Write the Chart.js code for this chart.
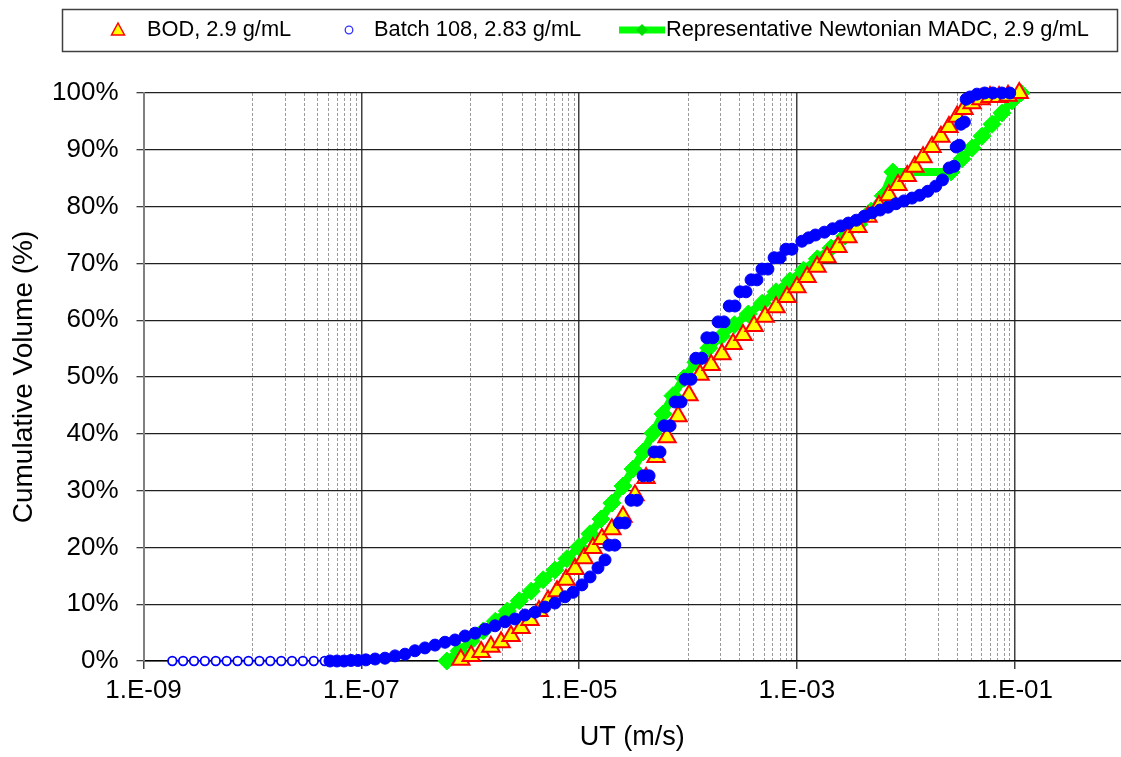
<!DOCTYPE html>
<html>
<head>
<meta charset="utf-8">
<script src="https://cdn.jsdelivr.net/npm/chart.js@4.4.1/dist/chart.umd.min.js"></script>
<style>
  html, body { margin: 0; padding: 0; background: #fff; overflow: hidden; }
</style>
</head>
<body>
<canvas id="myChart" width="1121" height="757"></canvas>
<script>
const ctx = document.getElementById("myChart");

// series names
const names = ['BOD, 2.9 g/mL', 'Batch 108, 2.83 g/mL', 'Representative Newtonian MADC, 2.9 g/mL'];

// BOD (triangles)
const bodX = [8.2e-7, 1.02e-6, 1.26e-6, 1.55e-6, 1.92e-6, 2.37e-6, 2.93e-6, 3.54e-6, 4.28e-6, 5.18e-6,
  6.27e-6, 7.59e-6, 9.18e-6, 1.11e-5, 1.34e-5, 1.62e-5, 2.0e-5, 2.53e-5, 3.26e-5, 4.12e-5,
  5.09e-5, 6.42e-5, 8.1e-5, 1.02e-4, 1.29e-4, 1.63e-4, 2.05e-4, 2.59e-4, 3.2e-4, 4.04e-4,
  5.1e-4, 6.43e-4, 8.1e-4, 1.0e-3, 1.24e-3, 1.53e-3, 1.89e-3, 2.38e-3, 2.94e-3, 3.63e-3,
  4.49e-3, 5.66e-3, 6.99e-3, 8.48e-3, 1.03e-2, 1.21e-2, 1.44e-2, 1.74e-2, 2.1e-2, 2.49e-2,
  2.95e-2, 3.42e-2, 4.06e-2, 4.9e-2, 5.93e-2, 7.18e-2, 8.68e-2, 1.1e-1]
const bodY = [0.2, 0.9, 1.6, 2.5, 3.3, 4.4, 5.8, 7.2, 8.8, 10.6,
  12.3, 14.3, 16.2, 18.1, 19.9, 21.5, 23.2, 25.4, 29.2, 32.2,
  35.9, 39.4, 43.1, 46.8, 50.4, 52.1, 54.0, 55.8, 57.4, 59.0,
  60.6, 62.3, 64.1, 65.8, 67.6, 69.4, 71.1, 72.9, 74.6, 76.4,
  78.2, 80.1, 82.0, 83.8, 85.4, 87.0, 88.7, 90.5, 92.3, 94.0,
  95.8, 97.2, 98.2, 98.9, 99.3, 99.3, 99.5, 100]

// Batch 108 (circles)
const batchX = [1.84e-9, 2.31e-9, 2.91e-9, 3.66e-9, 4.61e-9, 5.8e-9, 7.3e-9, 9.2e-9, 1.16e-8, 1.46e-8,
  1.84e-8, 2.31e-8, 2.91e-8, 3.66e-8, 4.61e-8,
  5.16e-8, 5.98e-8, 6.94e-8, 8.04e-8, 9.3e-8,
  1.1e-7, 1.34e-7, 1.65e-7, 2.04e-7, 2.52e-7, 3.11e-7, 3.84e-7, 4.75e-7, 5.87e-7, 7.25e-7,
  8.96e-7, 1.11e-6, 1.37e-6, 1.69e-6, 2.09e-6, 2.58e-6, 3.18e-6, 3.94e-6, 4.86e-6, 6.0e-6,
  7.42e-6, 8.79e-6, 1.06e-5, 1.26e-5, 1.49e-5, 1.73e-5,
  1.88e-5, 2.13e-5, 2.33e-5, 2.64e-5, 3.0e-5, 3.4e-5, 3.87e-5, 4.39e-5, 4.87e-5, 5.53e-5,
  6.03e-5, 6.84e-5, 7.6e-5, 8.63e-5, 9.4e-5, 1.065e-4, 1.18e-4, 1.34e-4, 1.49e-4, 1.69e-4,
  1.89e-4, 2.14e-4, 2.39e-4, 2.7e-4, 3.0e-4, 3.41e-4, 3.79e-4, 4.3e-4, 4.78e-4, 5.42e-4,
  6.17e-4, 7.0e-4, 7.93e-4, 9.0e-4,
  1.11e-3, 1.28e-3, 1.48e-3, 1.79e-3, 2.13e-3, 2.52e-3, 2.97e-3, 3.51e-3, 4.15e-3, 4.91e-3,
  5.8e-3, 6.86e-3, 8.12e-3, 9.61e-3, 1.14e-2, 1.34e-2, 1.59e-2, 1.88e-2, 2.17e-2, 2.5e-2,
  2.78e-2, 2.9e-2, 3.1e-2, 3.2e-2, 3.45e-2, 3.58e-2, 3.88e-2, 4.5e-2, 5.3e-2, 6.3e-2,
  7.6e-2, 9.0e-2]
const batchY = [0, 0, 0, 0, 0, 0, 0, 0, 0, 0,
  0, 0, 0, 0, 0,
  0, 0, 0, 0.1, 0.1,
  0.2, 0.35, 0.5, 0.9, 1.2, 1.8, 2.3, 2.8, 3.3, 3.7,
  4.4, 4.9, 5.6, 6.2, 6.9, 7.4, 8.1, 8.6, 9.5, 10.2,
  11.3, 12.1, 13.4, 14.8, 16.4, 17.8,
  20.4, 20.4, 24.3, 24.3, 28.3, 28.3, 32.6, 32.6, 36.8, 36.8,
  41.4, 41.4, 45.6, 45.6, 49.6, 49.6, 53.3, 53.3, 56.9, 56.9,
  59.7, 59.7, 62.5, 62.5, 65.0, 65.0, 67.1, 67.1, 69.0, 69.0,
  71.0, 71.0, 72.5, 72.5,
  73.9, 74.5, 75.0, 75.5, 76.1, 76.6, 77.1, 77.6, 78.3, 78.9,
  79.4, 79.9, 80.5, 81.0, 81.5, 82.0, 82.7, 83.6, 84.7, 86.8,
  87.1, 90.5, 90.8, 94.5, 94.9, 98.9, 99.3, 99.8, 100, 100,
  100, 100]

// Representative Newtonian MADC (green line)
const madcX = [6.1e-7, 7.9e-7, 1.02e-6, 1.32e-6, 1.70e-6, 2.19e-6, 2.82e-6, 3.63e-6, 4.67e-6, 6.0e-6,
  7.73e-6, 9.96e-6, 1.26e-5, 1.59e-5, 2.0e-5, 2.53e-5, 3.13e-5, 3.86e-5, 4.77e-5, 5.89e-5,
  7.27e-5, 9.16e-5, 1.18e-4, 1.55e-4, 2.03e-4, 2.67e-4, 3.58e-4, 4.8e-4, 6.43e-4, 8.6e-4,
  1.15e-3, 1.54e-3, 2.06e-3, 2.76e-3, 3.69e-3, 4.8e-3, 6.2e-3, 7.6e-3, 2.6e-2, 3.28e-2,
  4.06e-2, 5.01e-2, 6.19e-2, 7.64e-2, 9.43e-2, 1.14e-1]
const madcY = [0, 1.8, 3.5, 5.3, 7.0, 8.8, 10.6, 12.3, 14.3, 16.0,
  18.0, 20.1, 22.4, 25.0, 27.8, 30.8, 33.8, 36.8, 40.1, 43.5,
  46.7, 49.8, 52.6, 55.1, 57.2, 59.2, 61.1, 63.0, 65.0, 66.9,
  68.8, 70.8, 72.7, 74.8, 76.9, 79.2, 81.9, 86.1, 86.1, 88.4,
  90.3, 92.4, 94.5, 96.5, 98.6, 100]

// axis ticks
const majorTicks = [1e-9, 1e-7, 1e-5, 1e-3, 1e-1]
const minorTicks = [1e-8, 2e-8, 3e-8, 4e-8, 5e-8, 6e-8, 7e-8, 8e-8, 9e-8,
  1e-6, 2e-6, 3e-6, 4e-6, 5e-6, 6e-6, 7e-6, 8e-6, 9e-6,
  1e-4, 2e-4, 3e-4, 4e-4, 5e-4, 6e-4, 7e-4, 8e-4, 9e-4,
  1e-2, 2e-2, 3e-2, 4e-2, 5e-2, 6e-2, 7e-2, 8e-2, 9e-2]
const xMin = 1e-9
const xMax = 0.946

function pts(xs, ys){
  return xs.map((x, i) => ({x: x, y: ys[i]}))
}

function sciLabel(v){
  const e = Math.round(Math.log10(v))
  const s = String(Math.abs(e)).padStart(2, '0')
  return '1.E' + (e < 0 ? '-' : '+') + s
}

function noSidePadding(s){
  s.paddingLeft = 0
  s.paddingRight = 0
}

const FONT = "'Liberation Sans', Arial, sans-serif"
Chart.defaults.font.family = FONT
Chart.defaults.color = '#000'

// legend drawn as a framed box like the original
const boxLegend = {
  id: 'boxLegend',
  afterDraw(chart){
    const c = chart.ctx
    c.save()
    c.strokeStyle = '#404040'
    c.lineWidth = 1.5
    c.strokeRect(62.5, 9.5, 1055, 42)

    const y = 30
    // triangle
    c.beginPath()
    c.moveTo(118, y - 7)
    c.lineTo(124.5, y + 5)
    c.lineTo(111.5, y + 5)
    c.closePath()
    c.fillStyle = '#ffff00'
    c.fill()
    c.strokeStyle = '#ff0000'
    c.lineWidth = 1.5
    c.stroke()
    // circle
    c.beginPath()
    c.arc(349, y, 3.8, 0, Math.PI * 2)
    c.fillStyle = '#fff'
    c.fill()
    c.strokeStyle = '#3333ff'
    c.lineWidth = 1.3
    c.stroke()
    // line + diamond
    c.beginPath()
    c.moveTo(619, y)
    c.lineTo(665, y)
    c.strokeStyle = '#00ff00'
    c.lineWidth = 7
    c.stroke()
    c.beginPath()
    c.moveTo(642, y - 6)
    c.lineTo(648, y)
    c.lineTo(642, y + 6)
    c.lineTo(636, y)
    c.closePath()
    c.fillStyle = '#00dd00'
    c.fill()

    c.fillStyle = '#000'
    c.font = '21.8px ' + FONT
    c.textBaseline = 'middle'
    c.textAlign = 'left'
    c.fillText(names[0], 147, y)
    c.fillText(names[1], 374, y)
    c.fillText(names[2], 666, y)
    c.restore()
  }
}

const myChart = new Chart(ctx, {
  type: 'scatter',
  data: {
    datasets: [{
      label: names[0],
      data: pts(bodX, bodY),
      pointStyle: 'triangle',
      pointRadius: 10,
      pointBorderWidth: 2,
      backgroundColor: '#ffff00',
      borderColor: '#ff0000',
      order: 1,
      clip: false
    }, {
      label: names[1],
      data: pts(batchX, batchY),
      pointStyle: 'circle',
      pointRadius: c => (c.raw && c.raw.x < 5e-8) ? 4.3 : 6,
      pointBorderWidth: c => (c.raw && c.raw.x < 5e-8) ? 1.8 : 1,
      backgroundColor: c => (c.raw && c.raw.x < 5e-8) ? '#ffffff' : '#0000ff',
      borderColor: '#0000ff',
      order: 0,
      clip: false
    }, {
      label: names[2],
      data: pts(madcX, madcY),
      showLine: true,
      borderColor: '#00ff00',
      backgroundColor: '#00ff00',
      borderWidth: 8,
      pointStyle: 'rectRot',
      pointRadius: 9,
      pointBorderWidth: 1,
      order: 2,
      clip: false
    }]
  },
  options: {
    responsive: false,
    animation: false,
    layout: { autoPadding: false, padding: { top: 93, left: 0, right: 0, bottom: 0 } },
    plugins: {
      legend: { display: false },
      tooltip: { enabled: false }
    },
    scales: {
      x: {
        type: 'logarithmic',
        position: 'bottom',
        min: xMin,
        max: xMax,
        bounds: 'data',
        afterBuildTicks: s => { s.ticks = majorTicks.map(v => ({value: v})) },
        afterFit: s => { s.height = 96; noSidePadding(s) },
        ticks: {
          autoSkip: false,
          maxRotation: 0,
          padding: 6,
          font: { size: 26 },
          callback: v => sciLabel(v)
        },
        grid: {
          color: '#404040',
          lineWidth: 1.5,
          tickLength: 8,
          tickColor: '#404040'
        },
        border: { color: '#000', width: 1.5 },
        title: {
          display: true,
          text: 'UT (m/s)',
          font: { size: 27 },
          padding: { top: 0, bottom: 3 }
        }
      },
      xm: {
        type: 'logarithmic',
        position: 'bottom',
        min: xMin,
        max: xMax,
        bounds: 'data',
        afterBuildTicks: s => { s.ticks = minorTicks.map(v => ({value: v})) },
        afterFit: s => { s.height = 0; noSidePadding(s) },
        ticks: { display: false },
        grid: {
          color: '#9a9a9a',
          lineWidth: 1,
          drawTicks: false
        },
        border: { display: false, dash: [3, 2] }
      },
      y: {
        min: 0,
        max: 100,
        afterFit: s => { s.width = 143.5 },
        ticks: {
          stepSize: 10,
          padding: 18,
          font: { size: 26 },
          callback: v => v + '%'
        },
        grid: {
          color: '#202020',
          lineWidth: 1.3,
          tickLength: 7,
          tickColor: '#404040'
        },
        border: { color: '#808080', width: 2 },
        title: {
          display: true,
          text: 'Cumulative Volume (%)',
          font: { size: 28 },
          padding: { top: 7, bottom: 0 }
        }
      }
    }
  },
  plugins: [boxLegend]
});
</script>
</body>
</html>
